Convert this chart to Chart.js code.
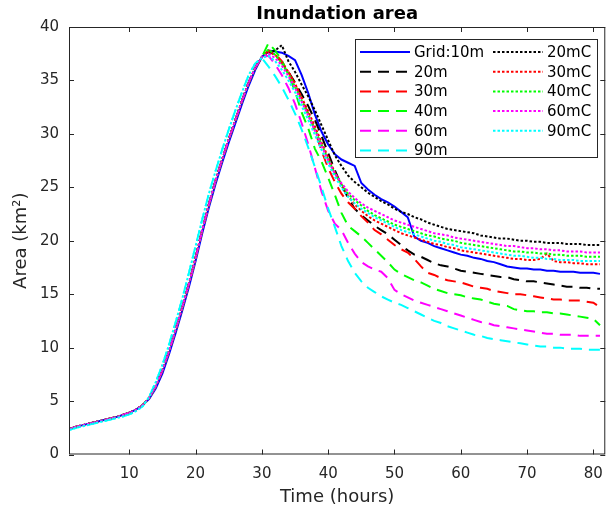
<!DOCTYPE html>
<html lang="en">
<head>
    <meta charset="UTF-8">
    <title>Inundation area</title>
    <script src="https://cdn.jsdelivr.net/npm/chart.js"></script>
    <style>
        body { margin: 0; background: #fff; }
    </style>
</head>
<body>
    <canvas id="chart" width="614" height="514"></canvas>

    <script>
        // time axis (hours) and tick labels
        const hours = [1,2,3,4,5,6,7,8,9,10,11,12,13,14,15,16,17,18,19,20,
            21,22,23,24,25,26,27,28,29,30,31,32,33,34,35,36,37,38,39,40,
            41,42,43,44,45,46,47,48,49,50,51,52,53,54,55,56,57,58,59,60,
            61,62,63,64,65,66,67,68,69,70,71,72,73,74,75,76,77,78,79,80,81];
        const xTicks = [10, 20, 30, 40, 50, 60, 70, 80];
        const yTicks = [0, 5, 10, 15, 20, 25, 30, 35, 40];

        // rising limb, hours 1-30 (nearly the same for every run)
        const riseBase = [2.4,2.6,2.75,2.9,3.05,3.2,3.35,3.5,3.7,3.9,4.2,4.6,5.3,6.4,7.9,9.7,11.7,13.8,16.0,18.4,
            21.0,23.4,25.6,27.6,29.5,31.3,33.1,34.8,36.2,37.2];
        const riseBlue = [2.4,2.6,2.75,2.9,3.05,3.2,3.35,3.5,3.7,3.9,4.2,4.6,5.2,6.2,7.6,9.4,11.4,13.5,15.7,18.1,
            20.7,23.1,25.3,27.3,29.2,31.0,32.8,34.5,36.0,37.2];
        const riseCyan = [2.3,2.5,2.65,2.8,2.95,3.1,3.25,3.4,3.55,3.75,4.05,4.5,5.4,6.8,8.4,10.3,12.4,14.6,17.0,19.5,
            22.0,24.4,26.5,28.5,30.4,32.2,33.9,35.5,36.6,37.1];

        // falling limb, hours 31-81
        const tail10m = [37.8,37.7,37.6,37.3,36.9,35.5,33.8,31.8,30.2,29.0,
            28.1,27.6,27.3,27.0,25.4,24.8,24.3,23.9,23.6,23.2,
            22.7,22.2,20.4,20.0,19.8,19.5,19.3,19.1,18.9,18.7,
            18.6,18.4,18.3,18.1,18.0,17.8,17.6,17.5,17.4,17.4,
            17.3,17.3,17.2,17.2,17.1,17.1,17.1,17.0,17.0,17.0,16.9];
        const tail20m = [37.7,37.4,36.7,35.8,34.8,33.7,32.6,31.3,29.8,28.2,
            26.6,25.2,24.0,23.0,22.4,21.9,21.4,21.0,20.6,20.1,
            19.6,19.1,18.7,18.5,18.2,17.9,17.7,17.6,17.4,17.2,
            17.1,17.0,16.9,16.8,16.7,16.6,16.6,16.4,16.3,16.2,
            16.2,16.1,16.0,15.9,15.8,15.7,15.7,15.6,15.6,15.5,15.5];
        const tail30m = [37.8,37.5,36.8,35.8,34.6,33.3,31.9,30.3,28.4,26.8,
            25.5,24.4,23.6,23.0,22.3,21.7,21.0,20.6,20.1,19.6,
            19.2,18.9,18.3,17.6,17.0,16.8,16.5,16.3,16.2,16.1,
            15.9,15.7,15.6,15.5,15.3,15.2,15.1,15.0,15.0,14.9,
            14.8,14.7,14.6,14.5,14.5,14.4,14.4,14.4,14.3,14.2,13.8];
        const tail40m = [38.5,37.8,36.9,35.5,34.0,32.0,30.5,28.6,27.4,25.9,
            24.3,22.6,21.4,20.9,20.4,19.8,19.2,18.6,18.0,17.3,
            16.9,16.6,16.3,16.1,15.8,15.5,15.3,15.1,15.0,14.9,
            14.7,14.6,14.5,14.3,14.1,14.0,13.9,13.6,13.5,13.4,
            13.4,13.3,13.3,13.2,13.2,13.1,13.0,12.9,12.8,12.7,12.1];
        const tail60m = [37.3,36.5,35.5,34.3,32.8,31.0,29.0,26.8,24.6,22.8,
            21.6,21.0,19.8,18.8,18.0,17.6,17.3,17.1,16.5,15.4,
            15.0,14.7,14.4,14.2,14.0,13.8,13.6,13.4,13.2,13.0,
            12.8,12.6,12.4,12.3,12.1,12.0,11.9,11.8,11.7,11.6,
            11.5,11.4,11.3,11.3,11.2,11.2,11.2,11.1,11.1,11.1,11.1];
        const tail90m = [36.3,35.4,34.4,33.2,31.9,30.4,28.7,26.9,25.0,23.0,
            21.3,19.5,18.1,17.0,16.2,15.6,15.2,14.8,14.5,14.2,
            14.0,13.7,13.4,13.1,12.8,12.5,12.3,12.0,11.8,11.6,
            11.4,11.2,11.1,10.9,10.8,10.7,10.6,10.5,10.4,10.3,
            10.2,10.1,10.1,10.0,10.0,9.9,9.9,9.9,9.8,9.8,9.8];
        const tail20mC = [37.6,37.8,38.3,36.8,35.8,34.6,33.5,32.2,30.8,29.4,
            28.0,27.0,26.1,25.5,25.0,24.5,24.1,23.7,23.4,23.0,
            22.7,22.5,22.2,22.0,21.7,21.5,21.3,21.1,21.0,20.9,
            20.8,20.7,20.5,20.4,20.3,20.2,20.2,20.1,20.0,20.0,
            19.9,19.9,19.8,19.8,19.8,19.7,19.7,19.7,19.6,19.6,19.6];
        const tail30mC = [37.7,37.4,36.7,35.8,34.7,33.4,32.1,30.7,29.2,27.8,
            26.4,25.2,24.2,23.4,22.8,22.3,21.9,21.6,21.3,21.0,
            20.7,20.5,20.3,20.1,19.9,19.7,19.6,19.4,19.3,19.1,
            19.0,18.9,18.8,18.7,18.6,18.5,18.4,18.3,18.3,18.2,
            18.2,18.3,18.8,18.1,18.0,18.0,17.9,17.9,17.8,17.8,17.8];
        const tail40mC = [37.9,37.4,36.6,35.6,34.4,33.1,31.8,30.4,29.0,27.6,
            26.3,25.3,24.4,23.8,23.3,22.8,22.4,22.1,21.8,21.5,
            21.3,21.1,20.9,20.7,20.5,20.4,20.2,20.1,20.0,19.8,
            19.7,19.6,19.5,19.4,19.3,19.2,19.1,19.0,19.0,18.9,
            18.9,18.8,18.8,18.7,18.7,18.6,18.6,18.6,18.5,18.5,18.5];
        const tail60mC = [37.5,37.1,36.4,35.4,34.3,33.0,31.7,30.3,28.9,27.5,
            26.3,25.4,24.6,24.0,23.5,23.1,22.8,22.5,22.2,21.9,
            21.7,21.5,21.3,21.1,20.9,20.7,20.6,20.5,20.3,20.2,
            20.1,20.0,19.9,19.8,19.7,19.6,19.5,19.5,19.4,19.3,
            19.3,19.2,19.2,19.1,19.1,19.0,19.0,19.0,18.9,18.9,18.9];
        const tail90mC = [37.3,36.8,36.0,35.0,33.9,32.6,31.3,29.9,28.5,27.2,
            26.0,25.0,24.1,23.5,23.0,22.6,22.2,21.9,21.6,21.3,
            21.0,20.8,20.6,20.4,20.2,20.0,19.9,19.7,19.6,19.4,
            19.3,19.2,19.1,19.0,18.9,18.8,18.7,18.6,18.6,18.5,
            18.4,18.4,18.3,18.3,18.2,18.2,18.2,18.1,18.1,18.1,18.1];

        const runNames = ['Grid:10m', '20m', '30m', '40m', '60m', '90m',
            '20mC', '30mC', '40mC', '60mC', '90mC'];

        const dash = [11, 7];
        const dot = [2.5, 2];
        const runs = [
            { data: riseBlue.concat(tail10m), color: '#0000ff', dash: [] },
            { data: riseBase.concat(tail20m), color: '#000000', dash: dash },
            { data: riseBase.concat(tail30m), color: '#ff0000', dash: dash },
            { data: riseBase.concat(tail40m), color: '#00ff00', dash: dash },
            { data: riseBase.concat(tail60m), color: '#ff00ff', dash: dash },
            { data: riseCyan.concat(tail90m), color: '#00ffff', dash: dash },
            { data: riseBase.concat(tail20mC), color: '#000000', dash: dot },
            { data: riseBase.concat(tail30mC), color: '#ff0000', dash: dot },
            { data: riseBase.concat(tail40mC), color: '#00ff00', dash: dot },
            { data: riseBase.concat(tail60mC), color: '#ff00ff', dash: dot },
            { data: riseCyan.concat(tail90mC), color: '#00ffff', dash: dot }
        ];

        const ink = '#262626';
        const font = 'DejaVu Sans';

        // box, inward ticks, title and the two-column legend (matlab style)
        const matlabAxes = {
            id: 'matlabAxes',
            afterDatasetsDraw(chart) {
                const { ctx, chartArea: a, scales: { x, y } } = chart;
                ctx.save();
                ctx.strokeStyle = ink;
                ctx.lineWidth = 1;
                ctx.strokeRect(a.left + 0.5, a.top + 0.5, a.right - a.left - 1, a.bottom - a.top - 1);
                ctx.beginPath();
                x.ticks.forEach(t => {
                    const px = Math.round(x.getPixelForValue(t.value)) + 0.5;
                    ctx.moveTo(px, a.bottom); ctx.lineTo(px, a.bottom - 5);
                    ctx.moveTo(px, a.top); ctx.lineTo(px, a.top + 5);
                });
                y.ticks.forEach(t => {
                    const py = Math.round(y.getPixelForValue(t.value)) + 0.5;
                    ctx.moveTo(a.left, py); ctx.lineTo(a.left + 5, py);
                    ctx.moveTo(a.right, py); ctx.lineTo(a.right - 5, py);
                });
                ctx.stroke();

                // title
                ctx.fillStyle = '#000';
                ctx.font = 'bold 18px "' + font + '"';
                ctx.textAlign = 'center';
                ctx.textBaseline = 'middle';
                ctx.fillText('Inundation area', (a.left + a.right) / 2, 14);

                // legend
                const bx = 355, by = 39, bw = 242, bh = 118;
                ctx.fillStyle = '#fff';
                ctx.fillRect(bx, by, bw, bh);
                ctx.strokeStyle = ink;
                ctx.strokeRect(bx + 0.5, by + 0.5, bw, bh);
                ctx.font = '15px "' + font + '"';
                ctx.textAlign = 'left';
                chart.data.datasets.forEach((ds, i) => {
                    const col = i < 6 ? 0 : 1;
                    const row = col === 0 ? i : i - 6;
                    const ly = by + 13 + row * 19.7;
                    const lx = col === 0 ? 360 : 493;
                    ctx.beginPath();
                    ctx.setLineDash(ds.borderDash);
                    ctx.lineWidth = 2;
                    ctx.strokeStyle = ds.borderColor;
                    ctx.moveTo(lx, ly);
                    ctx.lineTo(lx + 50, ly);
                    ctx.stroke();
                    ctx.setLineDash([]);
                    ctx.fillStyle = '#000';
                    ctx.fillText(ds.label, lx + 54, ly + 1);
                });
                ctx.restore();
            }
        };

        const ctx = document.getElementById('chart').getContext('2d');
        new Chart(ctx, {
            type: 'line',
            data: {
                labels: hours,
                datasets: runs.map((r, i) => ({
                    label: runNames[i],
                    data: r.data.map((v, k) => ({ x: hours[k], y: v })),
                    borderColor: r.color,
                    borderDash: r.dash,
                    borderWidth: 2,
                    pointRadius: 0,
                    fill: false,
                    tension: 0,
                    order: runs.length - i
                }))
            },
            options: {
                responsive: false,
                animation: false,
                events: [],
                layout: { padding: { top: 27, right: 5, left: 0, bottom: 0 } },
                plugins: {
                    legend: { display: false },
                    title: { display: false },
                    tooltip: { enabled: false }
                },
                scales: {
                    x: {
                        type: 'linear',
                        min: 0.9,
                        max: 81.8,
                        afterBuildTicks: s => { s.ticks = xTicks.map(v => ({ value: v })); },
                        afterFit: s => { s.height = 59.5; },
                        grid: { display: false, drawTicks: false },
                        border: { display: false },
                        ticks: { color: ink, font: { family: font, size: 15 }, padding: 11, maxRotation: 0 },
                        title: { display: true, text: 'Time (hours)', color: ink,
                            font: { family: font, size: 18 }, padding: { top: 0, bottom: 6 } }
                    },
                    y: {
                        min: 0,
                        max: 40,
                        afterBuildTicks: s => { s.ticks = yTicks.map(v => ({ value: v })); },
                        afterFit: s => { s.width = 69; },
                        grid: { display: false, drawTicks: false },
                        border: { display: false },
                        ticks: { color: ink, font: { family: font, size: 15 }, padding: 10 },
                        title: { display: true, text: 'Area (km²)', color: ink,
                            font: { family: font, size: 18 }, padding: { top: 11, bottom: 0 } }
                    }
                }
            },
            plugins: [matlabAxes]
        });
    </script>
</body>
</html>
